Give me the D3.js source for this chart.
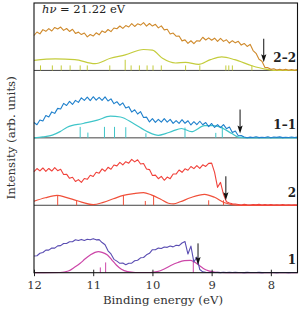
<!DOCTYPE html>
<html>
<head>
<meta charset="utf-8">
<script src="https://cdn.jsdelivr.net/npm/d3@7"></script>
<style>
    html, body { margin: 0; padding: 0; background: #fff; }
    svg { display: block; }
    text { font-family: 'DejaVu Serif', 'Liberation Serif', serif; fill: #333; }
</style>
</head>
<body>
<div id="chart"></div>
<script>
const WIDTH = 302;
const HEIGHT = 310;
const MARGIN = { top: 3, right: 4.5, bottom: 37.3, left: 34 };

// binding energy grid of the measured spectra (eV), 12.00 -> 7.55 in 0.05 steps
const energies = d3.range(90).map(i => +(12 - i * 0.05).toFixed(2));
const xTicks = [12, 11, 10, 9, 8];
const panelLabels = ['2–2', '1–1', '2', '1'];

// measured spectra (arb. units, 0..100 per panel)
const spec22 = [
    51.8, 57.0, 54.2, 60.5, 58.0, 62.0, 58.5, 63.7, 61.4, 64.3,
    59.4, 62.2, 57.8, 61.1, 54.9, 56.8, 53.2, 55.5, 49.7, 53.2,
    51.0, 55.8, 52.8, 58.6, 56.2, 60.7, 57.6, 62.9, 61.8, 65.9,
    62.3, 66.5, 64.4, 69.5, 65.2, 69.1, 67.2, 70.8, 65.7, 69.6,
    65.8, 68.4, 63.1, 66.1, 60.2, 61.0, 54.1, 55.5, 50.7, 51.1,
    43.8, 45.3, 40.1, 44.0, 39.6, 44.1, 43.5, 49.2, 45.1, 48.3,
    44.7, 47.8, 43.0, 47.5, 43.1, 45.5, 40.6, 44.1, 40.9, 43.2,
    37.6, 40.0, 35.5, 38.7, 29.4, 25.3, 16.5, 13.6, 4.4, 4.1,
    1.6, 2.5, 0.7, 1.8, 0.5, 1.6, 0.3, 1.3, 0.3, 1.2
];
const spec11 = [
    22.8, 19.5, 26.5, 25.0, 33.1, 30.9, 38.5, 36.3, 43.7, 42.8,
    51.1, 48.0, 54.1, 49.5, 55.6, 52.6, 59.4, 55.5, 60.3, 55.1,
    61.0, 55.8, 60.1, 55.7, 60.7, 54.6, 57.8, 50.7, 53.6, 48.3,
    51.8, 44.4, 46.3, 38.2, 41.6, 35.3, 38.8, 30.1, 30.7, 23.6,
    28.5, 22.9, 27.4, 23.3, 28.6, 23.4, 27.5, 21.4, 25.5, 21.4,
    26.9, 21.6, 25.4, 19.1, 23.9, 19.5, 24.6, 19.4, 22.8, 16.6,
    21.3, 15.4, 19.6, 15.1, 19.7, 13.6, 16.0, 7.8, 10.1, 3.2,
    3.3, 1.4, 0.2, 1.1, 0.5, 1.6, 0.3, 1.0, 0.6, 1.5,
    0.2, 1.2, 0.7, 1.4, 0.3, 1.0, 0.5, 1.3, 0.4, 1.1
];
const spec2 = [
    50.0, 54.5, 51.0, 55.3, 50.4, 54.6, 50.8, 55.9, 51.3, 53.5,
    45.6, 46.1, 40.0, 41.6, 35.2, 38.0, 34.0, 39.7, 38.5, 44.5,
    42.6, 49.0, 47.6, 54.0, 50.5, 56.3, 53.4, 59.8, 58.4, 63.7,
    59.8, 64.6, 62.5, 68.0, 64.3, 67.5, 61.3, 61.9, 53.9, 52.9,
    44.1, 44.7, 39.4, 42.9, 37.1, 41.8, 39.5, 46.3, 46.3, 52.3,
    48.9, 54.0, 51.9, 57.5, 54.4, 58.9, 54.7, 60.0, 57.6, 62.2,
    62.5, 48.8, 26.6, 34.0, 16.3, 5.2, 3.3, 2.2, 1.8, 1.2,
    0.5, 1.4, 0.8, 0.3, 1.1, 0.6, 1.3, 0.4, 0.9, 0.2,
    1.0, 0.5, 0.8, 0.3, 0.9, 0.4, 0.7, 0.2, 0.6, 0.3
];
const spec1 = [
    24.8, 25.2, 28.9, 29.9, 33.5, 33.5, 36.6, 36.4, 39.8, 40.2,
    43.4, 43.3, 45.9, 45.9, 48.8, 47.7, 49.4, 47.8, 49.6, 48.8,
    50.5, 48.7, 49.0, 44.7, 41.4, 32.5, 27.8, 19.8, 17.2, 13.9,
    14.4, 11.9, 14.1, 14.2, 17.7, 18.4, 22.1, 22.5, 26.5, 28.8,
    34.1, 34.1, 36.5, 35.9, 38.2, 37.6, 39.7, 38.3, 40.6, 40.2,
    44.0, 46.2, 27.7, 39.5, 15.8, 23.2, 4.7, 1.3, 0.6, 0.2,
    0.7, 0.3, 0.5, 0.1, 0.6, 0.3, 0.5, 0.2, 0.6, 0.2,
    0.4, 0.1, 0.5, 0.3, 0.4, 0.2, 0.5, 0.1, 0.4, 0.3,
    0.2, 0.4, 0.1, 0.3, 0.2, 0.4, 0.1, 0.3, 0.2, 0.3
];

// calculated (broadened) spectra: [energy, intensity]
const calc22 = [
    [12.0, 15], [11.64, 17], [11.31, 16], [10.97, 10], [10.71, 18], [10.46, 23],
    [10.15, 31], [10.0, 30], [9.83, 18], [9.61, 11], [9.44, 12], [9.22, 9],
    [9.02, 16], [8.83, 20], [8.61, 16], [8.32, 7], [8.10, 2], [7.92, 0], [7.55, 0]
];
const calc11 = [
    [12.0, 0], [11.85, 1.5], [11.69, 4], [11.56, 9.2], [11.44, 15.8], [11.17, 21.3],
    [10.93, 26.2], [10.71, 32.1], [10.54, 30.9], [10.32, 21.3], [10.08, 8.9], [9.90, 3.7],
    [9.78, 6.2], [9.66, 9.9], [9.51, 13.9], [9.34, 9.2], [9.12, 18.1], [8.98, 18.1],
    [8.88, 16.6], [8.66, 6.5], [8.54, 0.7], [8.42, 0], [7.55, 0]
];
const calc2 = [
    [12.0, 5.9], [11.81, 11.1], [11.61, 14.8], [11.46, 11.8], [11.27, 6.7], [11.0, 1.0],
    [10.83, 4.4], [10.66, 9.6], [10.49, 14.8], [10.32, 17.3], [10.15, 18.8], [10.02, 15.5],
    [9.86, 8.9], [9.73, 3.0], [9.64, 2.2], [9.53, 5.2], [9.36, 11.1], [9.12, 16.3],
    [8.95, 11.8], [8.78, 3.7], [8.66, 1.0], [8.51, 0], [7.55, 0]
];
const calc1 = [
    [12.0, 0], [11.56, 0.3], [11.42, 2.5], [11.31, 8.4], [11.22, 13.9], [11.14, 20.2],
    [11.05, 26.2], [10.97, 30.2], [10.91, 31.4], [10.85, 30.2], [10.76, 26.2], [10.69, 19.5],
    [10.61, 11.4], [10.53, 5.5], [10.42, 1.5], [10.29, 0.3], [10.03, 0.3], [9.92, 1.5],
    [9.80, 5.5], [9.69, 10.7], [9.57, 15.1], [9.46, 17.8], [9.36, 18.4], [9.29, 15.8],
    [9.22, 11.4], [9.14, 6.2], [9.05, 2.8], [8.93, 0.7], [8.76, 0], [7.55, 0]
];

// calculated ionisation energies (sticks): [energy, height]
const sticks22 = [
    [11.89, 7.4], [11.69, 7.4], [11.54, 7.4], [11.39, 7.4], [11.22, 7.4], [11.10, 7.4],
    [10.72, 7.4], [10.46, 15.8], [10.36, 7.4], [10.22, 7.4], [10.09, 7.4], [9.99, 7.4],
    [9.85, 7.4], [9.44, 7.4], [9.20, 7.4], [8.76, 7.4], [8.71, 7.4], [8.65, 7.4], [8.32, 7.4]
];
const sticks11 = [
    [11.22, 16.3], [11.09, 7.8], [10.81, 16.3], [10.64, 16.3], [10.45, 15.8],
    [10.11, 6.8], [9.45, 15.2], [8.93, 7.4], [8.82, 16.3]
];
const sticks2 = [
    [11.60, 14.8], [11.28, 7.4], [10.49, 14.8], [10.12, 6.4], [9.98, 14.8], [9.05, 7.4], [8.80, 7.4]
];
const sticks1 = [[10.88, 7.8], [10.79, 15.2], [9.31, 17.3]];

// onset arrows per panel (top to bottom)
const arrowEnergy = [8.12, 8.52, 8.76, 9.23];
const arrowTop = [47, 42, 43, 43.5];
const arrowTip = [12.3, 6.5, 7.4, 11.4];

const expColors = ['#cf8a2c', '#1f80cc', '#f0413a', '#5a4db2'];
const calcColors = ['#c4cc3c', '#3fc5c9', '#f0503a', '#cc46a8'];

const panels = [
    { label: panelLabels[0], spec: spec22, calc: calc22, sticks: sticks22 },
    { label: panelLabels[1], spec: spec11, calc: calc11, sticks: sticks11 },
    { label: panelLabels[2], spec: spec2, calc: calc2, sticks: sticks2 },
    { label: panelLabels[3], spec: spec1, calc: calc1, sticks: sticks1 }
];

const svg = d3.select('#chart').append('svg')
    .attr('width', WIDTH)
    .attr('height', HEIGHT);

const plotTop = MARGIN.top;
const plotBottom = HEIGHT - MARGIN.bottom;
const panelH = (plotBottom - plotTop) / panels.length;

const x = d3.scaleLinear()
    .domain([12, 7.55])
    .range([MARGIN.left, WIDTH - MARGIN.right]);

panels.forEach((panel, p) => {
    const base = plotTop + panelH * (p + 1);
    const y = d3.scaleLinear()
        .domain([0, 100])
        .range([base, base - panelH]);
    const g = svg.append('g');

    // separator between panels
    if (p < panels.length - 1) {
        g.append('line')
            .attr('x1', x.range()[0]).attr('x2', x.range()[1])
            .attr('y1', base).attr('y2', base)
            .attr('stroke', '#444').attr('stroke-width', 1);
    }

    // sticks
    g.selectAll('.stick')
        .data(panel.sticks)
        .enter().append('line')
        .attr('x1', d => x(d[0])).attr('x2', d => x(d[0]))
        .attr('y1', y(0)).attr('y2', d => y(d[1]))
        .attr('stroke', calcColors[p]).attr('stroke-width', 1);

    // calculated spectrum
    g.append('path')
        .datum(panel.calc)
        .attr('fill', 'none')
        .attr('stroke', calcColors[p])
        .attr('stroke-width', 1.2)
        .attr('d', d3.line()
            .x(d => x(d[0]))
            .y(d => y(d[1]))
            .curve(d3.curveMonotoneX));

    // measured spectrum
    g.append('path')
        .datum(panel.spec)
        .attr('fill', 'none')
        .attr('stroke', expColors[p])
        .attr('stroke-width', 1.1)
        .attr('stroke-linejoin', 'round')
        .attr('d', d3.line()
            .x((d, i) => x(energies[i]))
            .y(d => y(d)));

    // onset arrow
    const ax = x(arrowEnergy[p]);
    const tip = y(arrowTip[p]);
    g.append('line')
        .attr('x1', ax).attr('x2', ax)
        .attr('y1', y(arrowTop[p])).attr('y2', tip - 4)
        .attr('stroke', '#111').attr('stroke-width', 1);
    const head = d3.path();
    head.moveTo(ax, tip);
    head.lineTo(ax - 2.6, tip - 8);
    head.lineTo(ax, tip - 6.5);
    head.lineTo(ax + 2.6, tip - 8);
    head.closePath();
    g.append('path').attr('d', head.toString()).attr('fill', '#111');

    g.append('text')
        .attr('x', WIDTH - MARGIN.right - 1.5)
        .attr('y', base - 8.5)
        .attr('text-anchor', 'end')
        .attr('font-size', 12)
        .attr('font-weight', 'bold')
        .style('fill', '#222')
        .text(panel.label);
});

// bottom axis, ticks crossing the axis line
const axis = svg.append('g')
    .attr('transform', `translate(0, ${plotBottom})`)
    .call(d3.axisBottom(x).tickValues(xTicks).tickSize(3.5).tickFormat(d3.format('d')));
axis.select('.domain').remove();
axis.selectAll('.tick line').attr('y1', -3).attr('stroke', '#222');
axis.selectAll('.tick text')
    .attr('y', 16).attr('dy', 0)
    .attr('font-size', 11.5)
    .attr('font-family', null)
    .style('fill', '#333');

// frame
svg.append('rect')
    .attr('x', MARGIN.left)
    .attr('y', plotTop)
    .attr('width', WIDTH - MARGIN.left - MARGIN.right)
    .attr('height', plotBottom - plotTop)
    .attr('fill', 'none')
    .attr('stroke', '#111')
    .attr('stroke-width', 1.1);

svg.append('text')
    .attr('x', 163)
    .attr('y', 303.5)
    .attr('text-anchor', 'middle')
    .attr('font-size', 11.8)
    .text('Binding energy (eV)');

svg.append('text')
    .attr('transform', `translate(15, ${(plotTop + plotBottom) / 2}) rotate(-90)`)
    .attr('text-anchor', 'middle')
    .attr('font-size', 11.8)
    .text('Intensity (arb. units)');

const photon = svg.append('text')
    .attr('x', 42)
    .attr('y', 13)
    .attr('font-size', 11.5)
    .style('fill', '#222');
photon.append('tspan').attr('font-style', 'italic').text('hν');
photon.append('tspan').text(' = 21.22 eV');
</script>
</body>
</html>
